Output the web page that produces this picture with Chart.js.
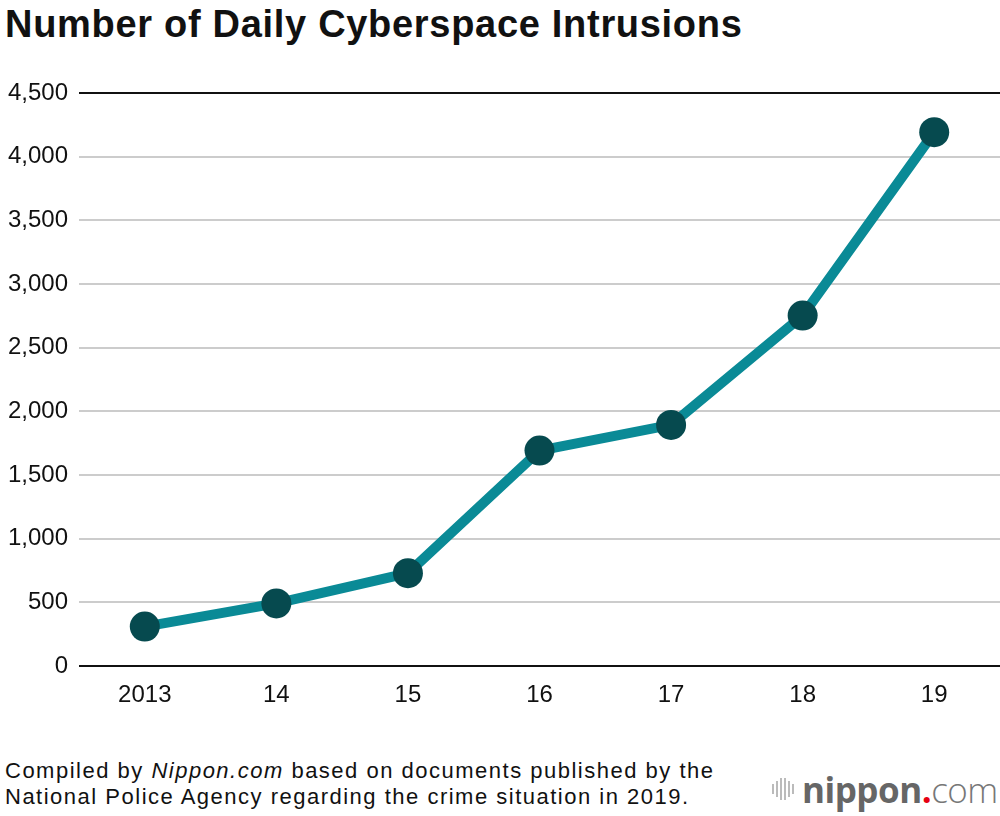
<!DOCTYPE html>
<html>
<head>
<meta charset="utf-8">
<script src="https://cdn.jsdelivr.net/npm/chart.js@4/dist/chart.umd.min.js"></script>
<style>
  html, body { margin: 0; padding: 0; overflow: hidden; background: #fff; font-family: "Liberation Sans", Arial, sans-serif; }
  #wrap { position: relative; width: 1000px; height: 816px; overflow: hidden; }
  #title { position: absolute; left: 5px; top: 3px; font-size: 38px; font-weight: bold; color: #111; letter-spacing: 0.7px; white-space: nowrap; }
  #chart { position: absolute; left: 0; top: 60px; }
  #note { position: absolute; left: 5px; top: 758px; font-size: 22px; line-height: 26px; color: #111; letter-spacing: 1.5px; white-space: nowrap; }
  #logo { position: absolute; left: 772px; top: 771px; height: 36px; display: flex; align-items: center; }
  #logo .bars { display: flex; align-items: center; gap: 2px; margin-right: 8px; }
  #logo .bars span { display: block; width: 2px; background: #bbb; }
  #logo .txt { font-family: "Open Sans", sans-serif; font-size: 35px; color: #666; letter-spacing: -0.5px; }
  #logo b { font-weight: 700; }
  #logo .dot { color: #e60012; font-weight: 700; }
  #logo .com { font-weight: 300; color: #777; }
</style>
</head>
<body>
<div id="wrap">
  <div id="title">Number of Daily Cyberspace Intrusions</div>
  <canvas id="chart" width="1000" height="680"></canvas>
  <div id="note">Compiled by <i>Nippon.com</i> based on documents published by the<br>National Police Agency regarding the crime situation in 2019.</div>
  <div id="logo">
    <div class="bars"><span style="height:10px"></span><span style="height:16px"></span><span style="height:22px"></span><span style="height:22px"></span><span style="height:16px"></span><span style="height:10px"></span></div>
    <div class="txt"><b>nippon</b><span class="dot">.</span><span class="com">com</span></div>
  </div>
</div>
<script>
// chart data
var years = ["2013", "14", "15", "16", "17", "18", "19"];
var intrusions = [309.3, 491.2, 729.3, 1692, 1893, 2752, 4192];

var yTicks = [0, 500, 1000, 1500, 2000, 2500, 3000, 3500, 4000, 4500];

//--------------------------------------------------------------------
// * Make the line chart
//--------------------------------------------------------------------
var ctx = document.getElementById('chart').getContext('2d');
var chart = new Chart(ctx, {
    type: 'line',
    data: {
        labels: years,
        datasets: [{
            label: "Intrusions",
            data: intrusions,
            borderColor: '#0a8a96',
            borderWidth: 10,
            pointRadius: 15,
            pointHoverRadius: 15,
            pointBackgroundColor: '#064a4f',
            pointBorderWidth: 0,
            tension: 0,
            clip: false
        }]
    },
    options: {
        responsive: false,
        animation: false,
        layout: { autoPadding: false, padding: { top: 33, right: 0, left: 0, bottom: 0 } },
        plugins: { legend: { display: false }, tooltip: { enabled: false } },
        scales: {
            x: {
                offset: true,
                grid: { display: false, drawTicks: false },
                border: { display: false },
                ticks: { color: '#111', font: { family: 'Liberation Sans', size: 24 }, padding: 15 },
                afterFit: function(s) { s.height = 74; s.paddingLeft = 0; s.paddingRight = 0; }
            },
            y: {
                min: 0,
                max: 4500,
                afterBuildTicks: function(s) { s.ticks = yTicks.map(function(v) { return { value: v }; }); },
                grid: {
                    drawTicks: false,
                    lineWidth: 2,
                    color: function(c) {
                        var v = c.tick ? c.tick.value : 0;
                        return (v === 0 || v === 4500) ? '#111' : '#cccccc';
                    }
                },
                border: { display: false },
                ticks: {
                    color: '#111',
                    font: { family: 'Liberation Sans', size: 24 },
                    padding: 11,
                    callback: function(v) { return v.toLocaleString('en-US'); }
                },
                afterFit: function(s) { s.width = 79; }
            }
        }
    }
});
</script>
</body>
</html>
